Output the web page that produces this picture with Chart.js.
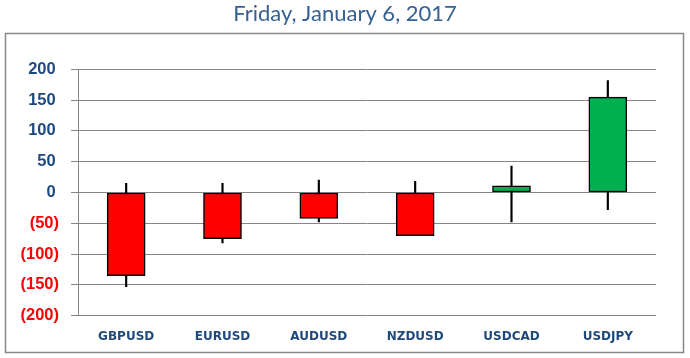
<!DOCTYPE html>
<html>
<head>
<meta charset="utf-8">
<script src="https://cdn.jsdelivr.net/npm/chart.js@4"></script>
<style>
  html, body { margin: 0; padding: 0; background: #fff; }
  #wrap { width: 690px; height: 358px; position: relative; }
</style>
</head>
<body>
<div id="wrap"><canvas id="chart"></canvas></div>
<script>
// Daily candles (pips) per pair
const pairs = ['GBPUSD', 'EURUSD', 'AUDUSD', 'NZDUSD', 'USDCAD', 'USDJPY'];
const openVals = [0, 0, 0, 0, 0, 0];
const closeVals = [-135, -75, -42, -70, 11, 155];
const highVals = [15, 15, 20, 18, 43, 182];
const lowVals = [-153, -82, -48, -70, -48, -28];
const yTicks = [-200, -150, -100, -50, 0, 50, 100, 150, 200];

const blue = '#1F497D';
const gridGray = '#868686';

const bodies = pairs.map((p, i) => [openVals[i], closeVals[i]]);
const wicks = pairs.map((p, i) => [lowVals[i], highVals[i]]);
const bodyColors = pairs.map((p, i) => closeVals[i] < openVals[i] ? '#FF0000' : '#00B050');

// outer frame like the excel chart border
const framePlugin = {
  id: 'frame',
  beforeDraw(chart) {
    const ctx = chart.ctx;
    ctx.save();
    ctx.strokeStyle = '#898989';
    ctx.lineWidth = 1.5;
    ctx.strokeRect(5.5, 33.5, 678, 319);
    ctx.restore();
  }
};

const config = {
  type: 'bar',
  data: {
    labels: pairs,
    datasets: [
      {
        label: 'body',
        data: bodies,
        backgroundColor: bodyColors,
        borderColor: '#000',
        borderWidth: 1.5,
        borderSkipped: false,
        barThickness: 38,
        grouped: false,
        order: 1
      },
      {
        label: 'wick',
        data: wicks,
        backgroundColor: '#000',
        borderWidth: 0,
        barThickness: 1.5,
        grouped: false,
        order: 2
      }
    ]
  },
  options: {
    responsive: true,
    maintainAspectRatio: false,
    animation: false,
    layout: { padding: { left: 17, right: 17, top: 0, bottom: 0 } },
    plugins: {
      legend: { display: false },
      tooltip: { enabled: false },
      title: {
        display: true,
        text: 'Friday, January 6, 2017',
        color: '#366092',
        font: { family: 'Lato', size: 22, weight: 'normal' },
        padding: { top: 1, bottom: 42 }
      }
    },
    scales: {
      x: {
        grid: { display: false, drawTicks: false },
        border: { display: false },
        ticks: {
          color: blue,
          padding: 14,
          font: { family: 'DejaVu Sans', size: 12, weight: 'bold' }
        }
      },
      y: {
        min: -200,
        max: 200,
        afterBuildTicks: scale => { scale.ticks = yTicks.map(v => ({ value: v })); },
        afterFit: scale => { scale.width = 61; },
        grid: { color: gridGray, lineWidth: 1, tickLength: 7 },
        border: { display: true, color: gridGray, width: 1 },
        ticks: {
          padding: 12,
          color: ctx => ctx.tick.value < 0 ? '#FF0000' : blue,
          font: { family: 'Liberation Sans', size: 16.5, weight: 'bold' },
          callback: v => v < 0 ? '(' + Math.abs(v) + ')' : v + '\u2009'
        }
      },
      // empty spacer on the right so the plot ends where the reference does
      yRight: {
        position: 'right',
        min: -200,
        max: 200,
        grid: { display: false, drawTicks: false },
        border: { display: false },
        ticks: { display: false },
        afterFit: scale => { scale.width = 17; }
      }
    }
  },
  plugins: [framePlugin]
};

const chart = new Chart(document.getElementById('chart'), config);
</script>
</body>
</html>
